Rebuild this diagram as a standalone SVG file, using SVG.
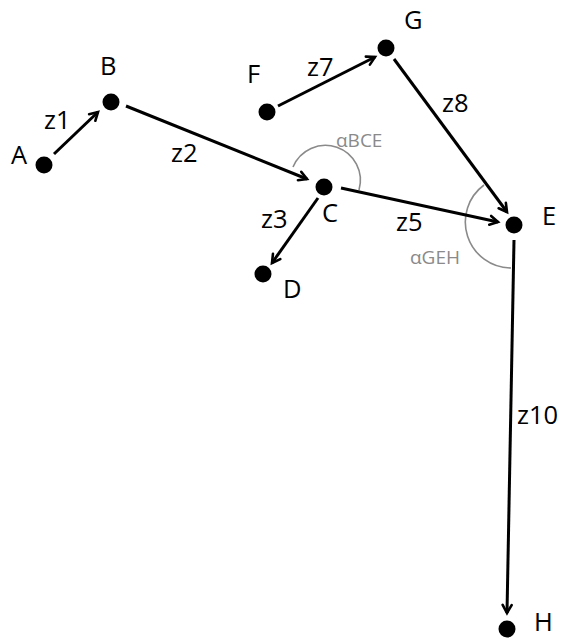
<svg xmlns="http://www.w3.org/2000/svg" width="564" height="639" viewBox="0 0 564 639">
<defs>
<style>
.lbl{font-family:"Open Sans","DejaVu Sans",sans-serif;font-size:25.5px;fill:#000}
.ang{font-family:"Open Sans","DejaVu Sans",sans-serif;font-size:19px;fill:#8a8a8a}
.edge{stroke:#000;stroke-width:3;fill:none;marker-end:url(#arr)}
.arc{stroke:#8a8a8a;stroke-width:1.6;fill:none}
.dot{fill:#000}
</style>
<marker id="arr" markerUnits="userSpaceOnUse" markerWidth="14" markerHeight="14" viewBox="-10 -7 12 14" refX="0" refY="0" orient="auto">
<path d="M-8,-4.5 L0,0 L-8,4.5" stroke="#000" stroke-width="2.6" fill="none" stroke-linecap="round" stroke-linejoin="miter"/>
</marker>
</defs>
<rect width="564" height="639" fill="#fff"/>
<g id="angles">
<path class="arc" d="M293,167 A35,35 0 0 1 359,190"/>
<text class="ang" x="336" y="147">αBCE</text>
<path class="arc" d="M484,185 A46,46 0 0 0 511,268"/>
<text class="ang" x="410" y="264">αGEH</text>
</g>
<g id="connectors">
<path class="edge" d="M54,154 L98,112"/>
<path class="edge" d="M126,106 L307,179"/>
<path class="edge" d="M318,198 L272,263"/>
<path class="edge" d="M341,188 L498,222"/>
<path class="edge" d="M278,106 L375,57"/>
<path class="edge" d="M394,59 L507,212"/>
<path class="edge" d="M514,240 L507,613"/>
<text class="lbl" x="44" y="129">z1</text>
<text class="lbl" x="171" y="162">z2</text>
<text class="lbl" x="261" y="228">z3</text>
<text class="lbl" x="396" y="231">z5</text>
<text class="lbl" x="307" y="76">z7</text>
<text class="lbl" x="442" y="112">z8</text>
<text class="lbl" x="517" y="424">z10</text>
</g>
<g id="node-A"><circle class="dot" cx="44" cy="165" r="8.5"/><text class="lbl" x="11" y="164">A</text></g>
<g id="node-B"><circle class="dot" cx="111" cy="102" r="8.5"/><text class="lbl" x="100" y="75">B</text></g>
<g id="node-C"><circle class="dot" cx="324" cy="187" r="8.5"/><text class="lbl" x="322" y="222">C</text></g>
<g id="node-D"><circle class="dot" cx="263" cy="274" r="8.5"/><text class="lbl" x="283" y="298">D</text></g>
<g id="node-E"><circle class="dot" cx="514" cy="225" r="8.5"/><text class="lbl" x="542" y="225">E</text></g>
<g id="node-F"><circle class="dot" cx="267" cy="112" r="8.5"/><text class="lbl" x="247" y="83">F</text></g>
<g id="node-G"><circle class="dot" cx="386" cy="48" r="8.5"/><text class="lbl" x="404" y="29">G</text></g>
<g id="node-H"><circle class="dot" cx="507" cy="629" r="8.5"/><text class="lbl" x="534" y="631">H</text></g>
</svg>
